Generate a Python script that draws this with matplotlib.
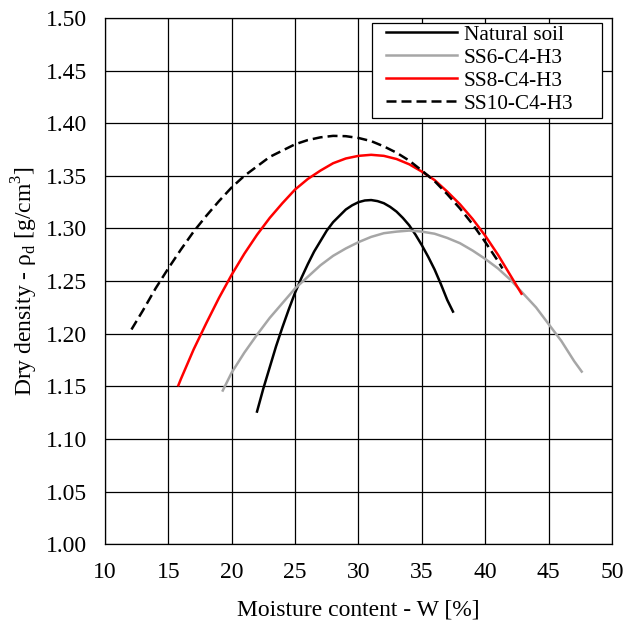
import matplotlib.pyplot as plt
from matplotlib.patches import Rectangle

plt.rcParams['font.family'] = ['Liberation Serif', 'DejaVu Serif']
plt.rcParams['mathtext.fontset'] = 'custom'
plt.rcParams['mathtext.rm'] = 'Liberation Serif'

# values
natural_x = [22.0, 22.5, 23, 23.5, 24, 24.5, 25, 25.5, 26, 26.5, 27, 27.5, 28, 28.5,
             29, 29.5, 30, 30.5, 31, 31.5, 32, 32.5, 33, 33.5, 34, 34.5, 35, 35.5,
             36, 36.5, 37, 37.45]
natural_y = [1.126, 1.148, 1.168, 1.188, 1.206, 1.223, 1.239, 1.253, 1.266, 1.278,
             1.288, 1.298, 1.306, 1.312, 1.318, 1.322, 1.325, 1.3266, 1.327, 1.326,
             1.324, 1.3205, 1.316, 1.310, 1.303, 1.294, 1.284, 1.273, 1.261, 1.247,
             1.232, 1.221]

ss6_x = [19.3, 20, 21, 22, 23, 24, 25, 26, 27, 28, 29, 30, 31, 32, 33, 34, 35, 36,
         37, 38, 39, 40, 41, 42, 43, 44, 45, 46, 47, 47.6]
ss6_y = [1.146, 1.163, 1.182, 1.199, 1.215, 1.229, 1.243, 1.254, 1.265, 1.274,
         1.281, 1.287, 1.292, 1.2955, 1.297, 1.298, 1.297, 1.295, 1.291, 1.286,
         1.279, 1.271, 1.262, 1.251, 1.238, 1.225, 1.209, 1.193, 1.174, 1.164]

ss8_x = [15.8, 16, 17, 18, 19, 20, 21, 22, 23, 24, 25, 26, 27, 28, 29, 30, 31, 32,
         33, 34, 35, 36, 37, 38, 39, 40, 41, 42, 42.85]
ss8_y = [1.151, 1.157, 1.185, 1.210, 1.234, 1.256, 1.276, 1.294, 1.310, 1.324,
         1.337, 1.347, 1.355, 1.362, 1.3665, 1.369, 1.370, 1.369, 1.366, 1.361,
         1.354, 1.346, 1.335, 1.323, 1.309, 1.293, 1.275, 1.255, 1.238]

ss10_x = [12.1, 13, 14, 15, 16, 17, 18, 19, 20, 21, 22, 23, 24, 25, 26, 27, 28, 29,
          30, 31, 32, 33, 34, 35, 36, 37, 38, 39, 40, 41, 41.35]
ss10_y = [1.204, 1.222, 1.243, 1.262, 1.280, 1.297, 1.312, 1.326, 1.339, 1.350,
          1.359, 1.368, 1.374, 1.380, 1.384, 1.3866, 1.388, 1.3877, 1.386, 1.383,
          1.378, 1.372, 1.3645, 1.355, 1.345, 1.3325, 1.319, 1.304, 1.287, 1.269, 1.262]

x_ticks = [10, 15, 20, 25, 30, 35, 40, 45, 50]
y_ticks = [1.00, 1.05, 1.10, 1.15, 1.20, 1.25, 1.30, 1.35, 1.40, 1.45, 1.50]

fig = plt.figure(figsize=(6.24, 6.32), dpi=100)
ax = fig.add_axes([0.168, 0.139, 0.813, 0.8325])

ax.plot(natural_x, natural_y, color='black', lw=1.8, label='Natural soil')
ax.plot(ss6_x, ss6_y, color='#a6a6a6', lw=1.8, label='SS6-C4-H3')
ax.plot(ss8_x, ss8_y, color='#ff0000', lw=1.8, label='SS8-C4-H3')
ax.plot(ss10_x, ss10_y, color='black', lw=1.8, dashes=(4, 2), label='SS10-C4-H3')

ax.set_xlim(10, 50)
ax.set_ylim(1.0, 1.5)
ax.set_xticks(x_ticks)
ax.set_yticks(y_ticks)
ax.set_xticklabels([str(t) for t in x_ticks])
ax.set_yticklabels(['%.2f' % t for t in y_ticks])
ax.grid(True, color='black', lw=0.9)
ax.set_axisbelow(True)
ax.tick_params(length=0, labelsize=17)
ax.tick_params(axis='x', pad=13)
ax.tick_params(axis='y', pad=13)
for s in ax.spines.values():
    s.set_linewidth(0.9)

ax.set_xlabel('Moisture content - W [%]', fontsize=17, labelpad=12)
ax.set_ylabel(r'Dry density - ρ$_\mathregular{d}$ [g/cm$^\mathregular{3}$]', fontsize=17, labelpad=4)

# legend box (wider than the entries, as in the original)
box = Rectangle((0.527, 0.810), 0.453, 0.1805, transform=ax.transAxes,
                facecolor='white', edgecolor='black', lw=0.9, zorder=4)
ax.add_patch(box)
leg = ax.legend(loc='upper left', bbox_to_anchor=(0.555, 0.987), borderaxespad=0,
                fontsize=15.3, handlelength=3.3, frameon=False, borderpad=0,
                labelspacing=0.15, handletextpad=0.33)
leg.set_zorder(5)

fig.savefig('out.png', dpi=100)
